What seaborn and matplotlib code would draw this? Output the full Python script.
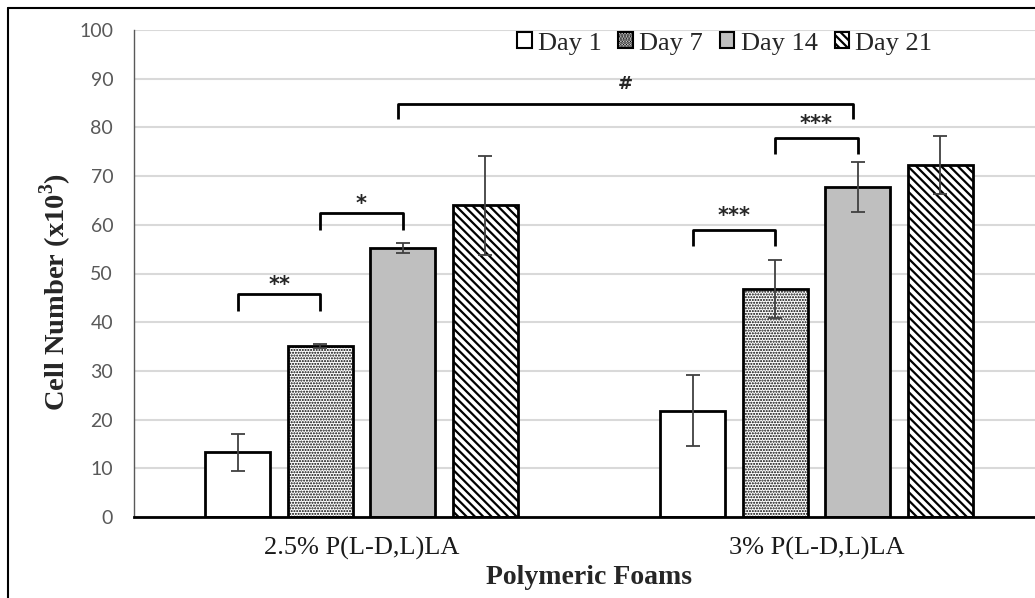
import pandas as pd
import matplotlib.pyplot as plt
import seaborn as sns
from matplotlib.patches import Patch
from matplotlib.lines import Line2D

# values
foams = ['2.5% P(L-D,L)LA', '3% P(L-D,L)LA']
days = ['Day 1', 'Day 7', 'Day 14', 'Day 21']
means_25 = [13.3, 35.1, 55.3, 64.0]
means_3 = [21.8, 46.8, 67.8, 72.3]
err_25 = [3.8, 0.5, 1.0, 10.2]
err_3 = [7.3, 6.0, 5.1, 6.0]

df = pd.DataFrame({
    'foam': [foams[0]] * 4 + [foams[1]] * 4,
    'day': days * 2,
    'cells': means_25 + means_3,
    'err': err_25 + err_3,
})

sns.set_style('white')
plt.rcParams['font.family'] = ['Liberation Serif', 'DejaVu Serif']
plt.rcParams['hatch.linewidth'] = 1.6

fig = plt.figure(figsize=(10.35, 5.98), dpi=100)
ax = fig.add_axes([134 / 1035, 81 / 598, 910 / 1035, 487 / 598])

colors = ['white', 'white', '#bfbfbf', 'white']
hatches = ['', '......', '', '\\\\\\\\']

sns.barplot(data=df, x='foam', y='cells', hue='day', palette=colors,
            width=0.724, gap=0.21, edgecolor='black', linewidth=2,
            errorbar=None, legend=False, ax=ax)

bar_groups = list(ax.containers)
cx = []
for i, cont in enumerate(bar_groups):
    errs = df[df['day'] == days[i]]['err'].values
    xs = []
    ys = []
    for bar in cont:
        bar.set_hatch(hatches[i])
        if i == 1:
            if hasattr(bar, 'set_hatchcolor'):
                bar.set_hatchcolor('#8c8c8c')
            if hasattr(bar, 'set_hatch_linewidth'):
                bar.set_hatch_linewidth(1.0)
        xs.append(bar.get_x() + bar.get_width() / 2)
        ys.append(bar.get_height())
    cx.append(xs)
    ax.errorbar(xs, ys, yerr=errs, fmt='none', ecolor='#404040',
                elinewidth=1.3, capsize=5, capthick=1.3, zorder=3)


def bracket(x1, x2, y, h, label, dy, fs=15):
    ax.plot([x1, x1, x2, x2], [y - h, y, y, y - h], color='black', lw=2,
            solid_joinstyle='round', solid_capstyle='butt', zorder=4)
    ax.text((x1 + x2) / 2, y + dy, label, ha='center', va='center',
            fontsize=fs, fontweight='bold', family='DejaVu Sans')


bracket(cx[0][0], cx[1][0], 45.7, 3.4, '**', 1.9)
bracket(cx[1][0], cx[2][0], 62.4, 3.4, '*', 1.9)
bracket(cx[0][1], cx[1][1], 58.9, 3.3, '***', 2.9)
bracket(cx[1][1], cx[2][1], 77.9, 3.3, '***', 2.9)
bracket(cx[2][0] - 0.01, cx[2][1] - 0.01, 84.9, 3.2, '#', 4.1, fs=13)

ax.set_xlim(-0.5, 1.5)
ax.set_ylim(0, 100)
ax.set_yticks(range(0, 101, 10))
ax.yaxis.grid(True, color='#d9d9d9', lw=1.5)
ax.set_axisbelow(True)
for s in ['top', 'right']:
    ax.spines[s].set_visible(False)
ax.spines['left'].set_color('#595959')
ax.spines['left'].set_linewidth(1)
ax.spines['bottom'].set_color('black')
ax.spines['bottom'].set_linewidth(2)
ax.tick_params(axis='y', length=0, labelsize=14, labelcolor='#595959', pad=15)
for lab in ax.get_yticklabels():
    lab.set_family(['Lato', 'DejaVu Sans'])
ax.tick_params(axis='x', length=0, labelsize=19, labelcolor='#1a1a1a', pad=14)

ax.set_xlabel('Polymeric Foams', fontsize=20, fontweight='bold', va='top')
ax.xaxis.set_label_coords(0.5, -0.098)
ax.set_ylabel('Cell Number (x10$^\\mathregular{3}$)', fontsize=20.5, fontweight='bold')
ax.yaxis.set_label_coords(-0.066, 0.462)

handles = [Patch(facecolor=colors[i], edgecolor='black', hatch=hatches[i], lw=1.5)
           for i in range(4)]
ax.legend(handles, days, loc='upper left', bbox_to_anchor=(383 / 910, 0.995),
          ncol=4, frameon=False, fontsize=19, handlelength=0.55, handleheight=0.55,
          handletextpad=0.23, columnspacing=0.65, borderaxespad=0, borderpad=0)

# outer frame of the original figure (only left and top edges visible)
fig.add_artist(Line2D([8 / 1035, 8 / 1035], [0, 1 - 8 / 598], color='black', lw=1.5))
fig.add_artist(Line2D([8 / 1035, 1], [1 - 8 / 598, 1 - 8 / 598], color='black', lw=1.5))

fig.savefig('out.png', dpi=100)
